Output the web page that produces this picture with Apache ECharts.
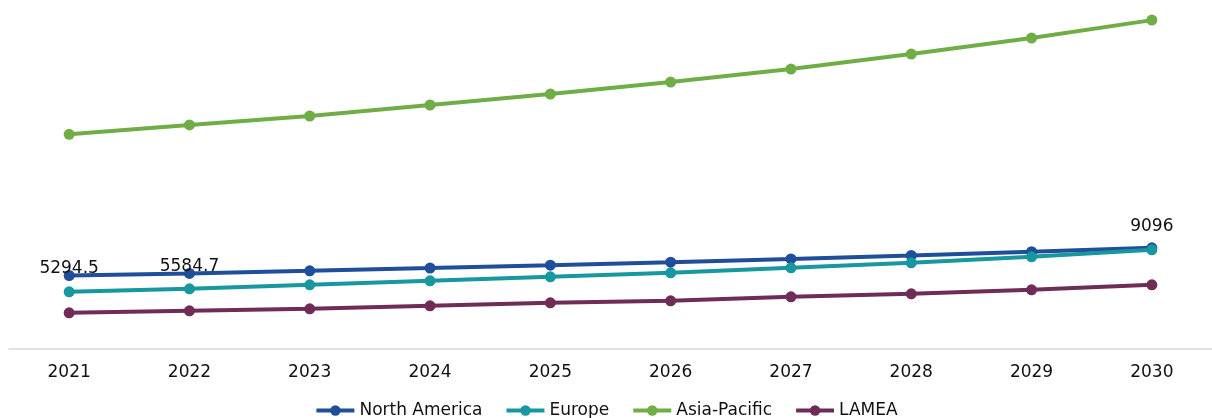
<!DOCTYPE html>
<html>
<head>
<meta charset="utf-8">
<script src="https://cdn.jsdelivr.net/npm/echarts@6/dist/echarts.min.js"></script>
<style>
  html, body { margin: 0; padding: 0; background: #fff; }
  #chart { width: 1212px; height: 418px; }
</style>
</head>
<body>
<div id="chart"></div>
<script>
const years = ['2021', '2022', '2023', '2024', '2025', '2026', '2027', '2028', '2029', '2030'];

const northAmerica = [5294.5, 5584.7, 5937, 6311, 6708, 7130, 7579, 8057, 8564, 9096];
const europe = [3058, 3470, 4019, 4567, 5116, 5665, 6351, 7037, 7860, 8820];
const asiaPacific = [24695, 25971, 27205, 28714, 30224, 31870, 33654, 35712, 37906, 40376];
const lamea = [177, 451, 726, 1137, 1549, 1823, 2372, 2784, 3333, 4019];

// which points of North America carry a value label
const labelledYears = ['2021', '2022', '2030'];

const font = 'DejaVu Sans, Verdana, sans-serif';

function lineSeries(name, values, color) {
  return {
    name: name,
    type: 'line',
    data: values,
    symbol: 'circle',
    symbolSize: 11,
    lineStyle: { color: color, width: 4 },
    itemStyle: { color: color },
    z: 2
  };
}

const naData = northAmerica.map((v, i) => {
  if (labelledYears.indexOf(years[i]) < 0) return v;
  const last = i === years.length - 1;
  return {
    value: v,
    label: {
      show: true,
      position: 'top',
      distance: last ? 7 : 5,
      offset: last ? [0, 0] : [0, 12],
      color: '#111',
      fontSize: 17,
      fontFamily: font
    }
  };
});

const chart = echarts.init(document.getElementById('chart'));
chart.setOption({
  animation: false,
  grid: { left: 9, width: 1207, top: 1, bottom: 69 },
  legend: {
    bottom: -6,
    left: 'center',
    itemWidth: 38,
    itemHeight: 13,
    itemGap: 22,
    lineStyle: { width: 4 },
    textStyle: { fontSize: 17, fontFamily: font, color: '#111' },
    data: ['North America', 'Europe', 'Asia-Pacific', 'LAMEA']
  },
  xAxis: {
    type: 'category',
    data: years,
    axisLine: { onZero: false, lineStyle: { color: '#d9d9d9', width: 1.5 } },
    axisTick: { show: false },
    axisLabel: { color: '#111', fontSize: 17, fontFamily: font, margin: 15 }
  },
  yAxis: {
    type: 'value',
    min: -4800,
    max: 43000,
    show: false,
    splitLine: { show: false }
  },
  series: [
    lineSeries('North America', naData, '#1f4e9a'),
    lineSeries('Europe', europe, '#17979e'),
    lineSeries('Asia-Pacific', asiaPacific, '#70ad47'),
    lineSeries('LAMEA', lamea, '#6e2c56')
  ]
});
</script>
</body>
</html>
